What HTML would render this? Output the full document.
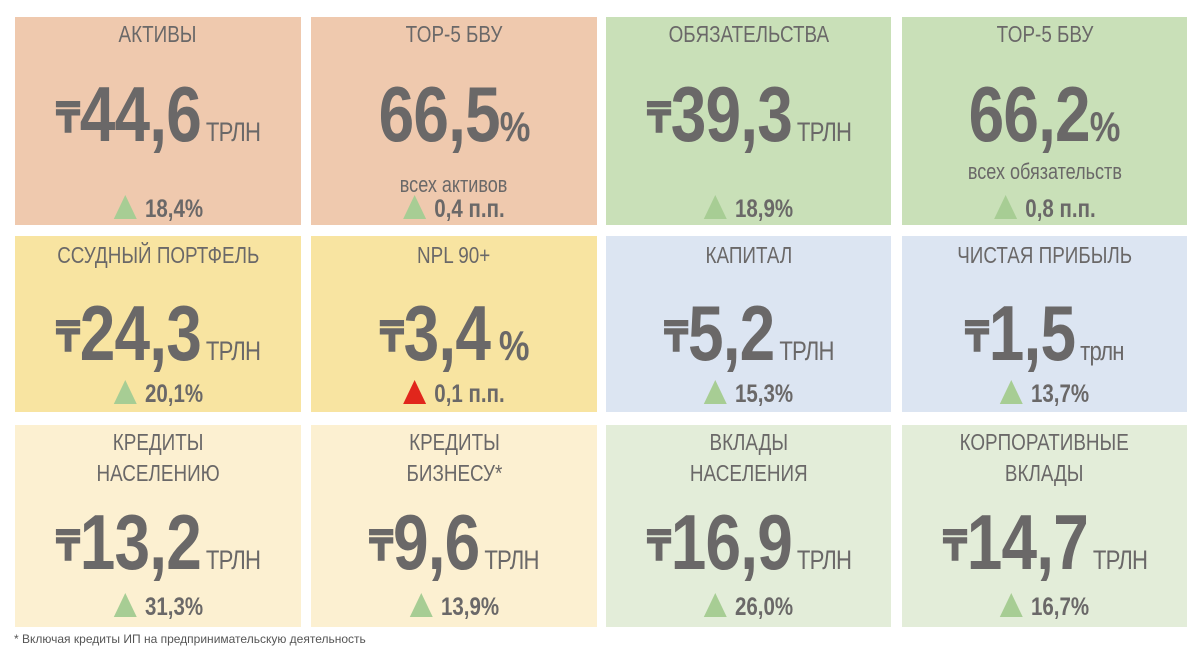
<!DOCTYPE html>
<html><head><meta charset="utf-8"><style>
body{margin:0;width:1200px;height:652px;background:#fff;position:relative;overflow:hidden;font-family:"Liberation Sans","DejaVu Sans",sans-serif;color:#6a6868}
.t{position:absolute}
.l{position:absolute;left:0;right:0;text-align:center;white-space:nowrap}
.s{display:inline-block;transform:scaleX(0.82);transform-origin:center}
.title{font-size:23px}
.big{font-size:78px;font-weight:bold;letter-spacing:-1px}
.cur{font-size:44px;font-weight:bold;font-family:"DejaVu Sans",sans-serif;vertical-align:8px}
.unit{font-size:27px;font-weight:normal;margin-left:6px}
.pct{font-size:42px}
.sub{font-size:22px}
.ch{font-size:25px;font-weight:bold}
.tri{display:inline-block;width:0;height:0;border-left:14px solid transparent;border-right:14px solid transparent;border-bottom:24px solid #a7cd94;margin-right:10px;vertical-align:-2px}
.red{border-bottom-color:#e1261c}
.fn{position:absolute;left:14px;top:632px;font-size:12px;color:#555}
</style></head><body>
<div class="t" style="left:15px;top:17px;width:286px;height:208px;background:#efc9ae">
 <div class="l title" style="top:4px"><span class="s">АКТИВЫ</span></div>
 <div class="l big" style="top:52px"><span class="s"><span class="cur">₸</span>44,6<span class="unit">ТРЛН</span></span></div>
 <div class="l ch" style="top:178px"><span class="s"><span class="tri"></span>18,4%</span></div>
</div>
<div class="t" style="left:311px;top:17px;width:286px;height:208px;background:#efc9ae">
 <div class="l title" style="top:4px"><span class="s">TOP-5 БВУ</span></div>
 <div class="l big" style="top:52px"><span class="s">66,5<span class="pct">%</span></span></div>
 <div class="l sub" style="top:155px"><span class="s">всех активов</span></div>
 <div class="l ch" style="top:178px"><span class="s"><span class="tri"></span>0,4 п.п.</span></div>
</div>
<div class="t" style="left:606px;top:17px;width:285px;height:208px;background:#c9e0b8">
 <div class="l title" style="top:4px"><span class="s">ОБЯЗАТЕЛЬСТВА</span></div>
 <div class="l big" style="top:52px"><span class="s"><span class="cur">₸</span>39,3<span class="unit">ТРЛН</span></span></div>
 <div class="l ch" style="top:178px"><span class="s"><span class="tri"></span>18,9%</span></div>
</div>
<div class="t" style="left:902px;top:17px;width:285px;height:208px;background:#c9e0b8">
 <div class="l title" style="top:4px"><span class="s">TOP-5 БВУ</span></div>
 <div class="l big" style="top:52px"><span class="s">66,2<span class="pct">%</span></span></div>
 <div class="l sub" style="top:142px"><span class="s">всех обязательств</span></div>
 <div class="l ch" style="top:178px"><span class="s"><span class="tri"></span>0,8 п.п.</span></div>
</div>

<div class="t" style="left:15px;top:236px;width:286px;height:176px;background:#f8e4a1">
 <div class="l title" style="top:6px"><span class="s">ССУДНЫЙ ПОРТФЕЛЬ</span></div>
 <div class="l big" style="top:52px"><span class="s"><span class="cur">₸</span>24,3<span class="unit">ТРЛН</span></span></div>
 <div class="l ch" style="top:144px"><span class="s"><span class="tri"></span>20,1%</span></div>
</div>
<div class="t" style="left:311px;top:236px;width:286px;height:176px;background:#f8e4a1">
 <div class="l title" style="top:6px"><span class="s">NPL 90+</span></div>
 <div class="l big" style="top:52px"><span class="s"><span class="cur">₸</span>3,4<span class="pct"> %</span></span></div>
 <div class="l ch" style="top:144px"><span class="s"><span class="tri red"></span>0,1 п.п.</span></div>
</div>
<div class="t" style="left:606px;top:236px;width:285px;height:176px;background:#dce5f2">
 <div class="l title" style="top:6px"><span class="s">КАПИТАЛ</span></div>
 <div class="l big" style="top:52px"><span class="s"><span class="cur">₸</span>5,2<span class="unit">ТРЛН</span></span></div>
 <div class="l ch" style="top:144px"><span class="s"><span class="tri"></span>15,3%</span></div>
</div>
<div class="t" style="left:902px;top:236px;width:285px;height:176px;background:#dce5f2">
 <div class="l title" style="top:6px"><span class="s">ЧИСТАЯ ПРИБЫЛЬ</span></div>
 <div class="l big" style="top:52px"><span class="s"><span class="cur">₸</span>1,5<span class="unit">трлн</span></span></div>
 <div class="l ch" style="top:144px"><span class="s"><span class="tri"></span>13,7%</span></div>
</div>

<div class="t" style="left:15px;top:425px;width:286px;height:202px;background:#fcf0d1">
 <div class="l title" style="top:2px;line-height:31px"><span class="s">КРЕДИТЫ<br>НАСЕЛЕНИЮ</span></div>
 <div class="l big" style="top:72px"><span class="s"><span class="cur">₸</span>13,2<span class="unit">ТРЛН</span></span></div>
 <div class="l ch" style="top:168px"><span class="s"><span class="tri"></span>31,3%</span></div>
</div>
<div class="t" style="left:311px;top:425px;width:286px;height:202px;background:#fcf0d1">
 <div class="l title" style="top:2px;line-height:31px"><span class="s">КРЕДИТЫ<br>БИЗНЕСУ*</span></div>
 <div class="l big" style="top:72px"><span class="s"><span class="cur">₸</span>9,6<span class="unit">ТРЛН</span></span></div>
 <div class="l ch" style="top:168px"><span class="s"><span class="tri"></span>13,9%</span></div>
</div>
<div class="t" style="left:606px;top:425px;width:285px;height:202px;background:#e3edd9">
 <div class="l title" style="top:2px;line-height:31px"><span class="s">ВКЛАДЫ<br>НАСЕЛЕНИЯ</span></div>
 <div class="l big" style="top:72px"><span class="s"><span class="cur">₸</span>16,9<span class="unit">ТРЛН</span></span></div>
 <div class="l ch" style="top:168px"><span class="s"><span class="tri"></span>26,0%</span></div>
</div>
<div class="t" style="left:902px;top:425px;width:285px;height:202px;background:#e3edd9">
 <div class="l title" style="top:2px;line-height:31px"><span class="s">КОРПОРАТИВНЫЕ<br>ВКЛАДЫ</span></div>
 <div class="l big" style="top:72px"><span class="s"><span class="cur">₸</span>14,7<span class="unit">ТРЛН</span></span></div>
 <div class="l ch" style="top:168px"><span class="s"><span class="tri"></span>16,7%</span></div>
</div>
<div class="fn">* Включая кредиты ИП на предпринимательскую деятельность</div>
</body></html>
